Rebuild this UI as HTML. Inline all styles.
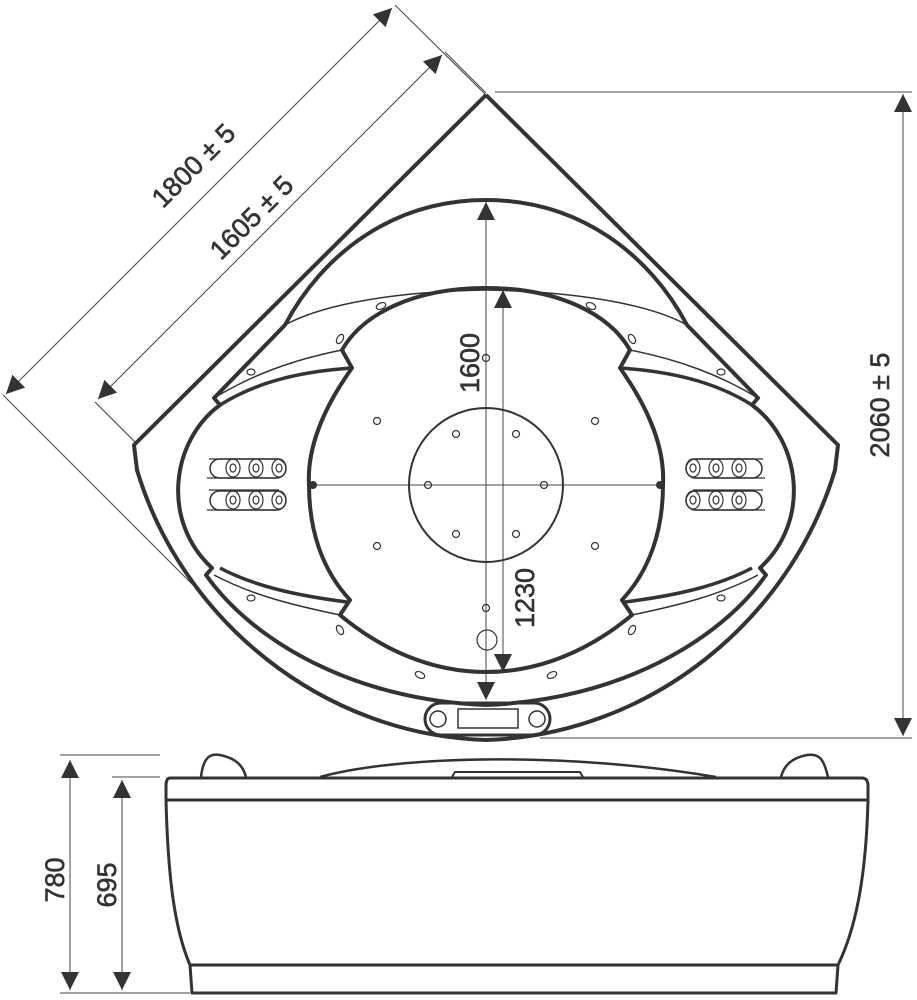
<!DOCTYPE html>
<html><head><meta charset="utf-8"><style>
html,body{margin:0;padding:0;background:#fff}
svg{display:block}
text{font-family:"Liberation Sans",Arial,sans-serif;fill:#333}
</style></head><body>
<svg width="917" height="1000" viewBox="0 0 917 1000" xmlns="http://www.w3.org/2000/svg">
<defs>
<marker id="b" viewBox="0 0 10 10" refX="10" refY="5" markerWidth="26" markerHeight="18" markerUnits="userSpaceOnUse" orient="auto-start-reverse"><path d="M0,0 L10,5 L0,10 Z" fill="#333"/></marker>
</defs>
<!-- dimension lines -->
<g stroke="#444" stroke-width="1" fill="none">
<line x1="392" y1="8" x2="6" y2="394" marker-start="url(#b)" marker-end="url(#b)"/>
<line x1="395" y1="5" x2="486" y2="95"/>
<line x1="3" y1="395" x2="205" y2="597"/>
<line x1="442" y1="55" x2="98" y2="399" marker-start="url(#b)" marker-end="url(#b)"/>
<line x1="445" y1="52" x2="486" y2="93"/>
<line x1="95" y1="402" x2="135" y2="442"/>
<line x1="495" y1="92" x2="912" y2="92"/>
<line x1="540" y1="738" x2="912" y2="738"/>
<line x1="903" y1="94" x2="903" y2="736" marker-start="url(#b)" marker-end="url(#b)"/>
<line x1="486" y1="202" x2="486" y2="700" marker-start="url(#b)" marker-end="url(#b)"/>
<line x1="503" y1="290" x2="503" y2="672" marker-start="url(#b)" marker-end="url(#b)"/>
<line x1="313" y1="485" x2="663" y2="485"/>
<line x1="60" y1="755" x2="160" y2="755"/>
<line x1="112" y1="777" x2="160" y2="777"/>
<line x1="60" y1="993" x2="190" y2="993"/>
<line x1="70" y1="760" x2="70" y2="990" marker-start="url(#b)" marker-end="url(#b)"/>
<line x1="122" y1="780" x2="122" y2="990" marker-start="url(#b)" marker-end="url(#b)"/>
</g>
<g font-size="27" stroke="#333" stroke-width="0.6">
<text transform="translate(200,172) rotate(-45)" text-anchor="middle">1800 ± 5</text>
<text transform="translate(258,224) rotate(-45)" text-anchor="middle">1605 ± 5</text>
<text transform="translate(889,405) rotate(-90)" text-anchor="middle">2060 ± 5</text>
<text transform="translate(479,363) rotate(-90)" text-anchor="middle">1600</text>
<text transform="translate(534,598) rotate(-90)" text-anchor="middle">1230</text>
<text transform="translate(64,880) rotate(-90)" text-anchor="middle">780</text>
<text transform="translate(116,885) rotate(-90)" text-anchor="middle">695</text>
</g>
<!-- top view halves -->
<g id="r" fill="none" stroke="#333" stroke-linejoin="round">
<path d="M486,95 L838,445 L835,470 C790,620 650,735 486,740" stroke-width="4"/>
<path d="M486,200 C580,200 650,255 687,325 L758,398 L752,405 C800,440 812,520 760,568 L766,575 C720,640 620,700 486,705" stroke-width="4"/>
<path d="M630,350 C680,360 720,375 758,398" stroke-width="1.5"/>
<path d="M620,368 C680,372 720,385 752,405" stroke-width="3.5"/>
<path d="M752,568 C720,585 680,595 625,602" stroke-width="3.5"/>
<path d="M758,575 C720,595 680,605 632,615" stroke-width="1.5"/>
<path d="M486,288 C560,288 610,315 630,350 L620,368 C650,410 665,450 663,485 C663,530 650,570 622,600 L632,615 C590,650 540,672 486,672" stroke-width="4"/>
<path d="M486,290 C600,292 660,310 687,325" stroke-width="1.5"/>
<g stroke-width="1.2">
<ellipse cx="591" cy="306" rx="5" ry="3" transform="rotate(25 591 306)"/>
<ellipse cx="632" cy="339" rx="5" ry="3" transform="rotate(60 632 339)"/>
<ellipse cx="721" cy="372" rx="4" ry="3"/>
<ellipse cx="721" cy="598" rx="4" ry="3"/>
<ellipse cx="632" cy="630" rx="5" ry="3" transform="rotate(-60 632 630)"/>
<ellipse cx="552" cy="675" rx="5" ry="3" transform="rotate(-25 552 675)"/>
<circle cx="595" cy="421" r="3.5"/><circle cx="595" cy="546" r="3.5"/>
<circle cx="516" cy="434" r="3.5"/><circle cx="516" cy="534" r="3.5"/>
<circle cx="544" cy="485" r="3.5"/>
<path d="M693,459 L763,459 M695,478 L765,478 M693,490 L763,490 M695,510 L765,510"/>
<rect x="686" y="459" width="76" height="19" rx="9.5" stroke-width="1.5"/>
<rect x="686" y="491" width="76" height="19" rx="9.5" stroke-width="1.5"/>
<ellipse cx="693" cy="468" rx="7" ry="9"/><ellipse cx="693" cy="468" rx="3" ry="4"/>
<ellipse cx="716" cy="468" rx="7" ry="9"/><ellipse cx="716" cy="468" rx="3" ry="4"/>
<ellipse cx="739" cy="468" rx="7" ry="9"/><ellipse cx="739" cy="468" rx="3" ry="4"/>
<ellipse cx="693" cy="500" rx="7" ry="9"/><ellipse cx="693" cy="500" rx="3" ry="4"/>
<ellipse cx="716" cy="500" rx="7" ry="9"/><ellipse cx="716" cy="500" rx="3" ry="4"/>
<ellipse cx="739" cy="500" rx="7" ry="9"/><ellipse cx="739" cy="500" rx="3" ry="4"/>
</g>
</g>
<use href="#r" transform="matrix(-1 0 0 1 972 0)"/>
<g fill="none" stroke="#333">
<circle cx="486" cy="485" r="77" stroke-width="2"/>
<circle cx="313" cy="485" r="3.5" fill="#333"/><circle cx="660" cy="485" r="3.5" fill="#333"/>
<circle cx="486" cy="358" r="3.5" stroke-width="1.2"/>
<circle cx="486" cy="608" r="3.5" stroke-width="1.2"/>
<circle cx="487" cy="640" r="10" stroke-width="1.2"/>
<rect x="425" y="703" width="125" height="32" rx="16" stroke-width="3"/>
<circle cx="438" cy="719" r="8" stroke-width="1.5"/>
<circle cx="537" cy="719" r="8" stroke-width="1.5"/>
<rect x="458" y="709" width="60" height="19" stroke-width="1.5"/>
</g>
<!-- side view -->
<g fill="none" stroke="#333" stroke-linejoin="round">
<path d="M320,777 C400,755 570,752 716,777" stroke-width="2.5"/>
<path d="M452,777 L455,772 L580,772 L583,777" stroke-width="2"/>
<path d="M201,777 C203,760 208,753 220,755 C235,758 243,765 246,777" stroke-width="2.5"/>
<path d="M781,777 C784,765 792,758 807,755 C820,753 824,760 828,777" stroke-width="2.5"/>
<path d="M170,778 L862,778 Q868,778 868,786 L868,800 L166,800 L166,786 Q166,778 170,778 Z" stroke-width="3"/>
<path d="M166,800 C168,880 175,930 190,965 L838,965 C855,930 866,880 868,800" stroke-width="3"/>
<path d="M190,965 L192,993 L836,993 L838,965" stroke-width="3"/>
</g>
</svg>
</body></html>
